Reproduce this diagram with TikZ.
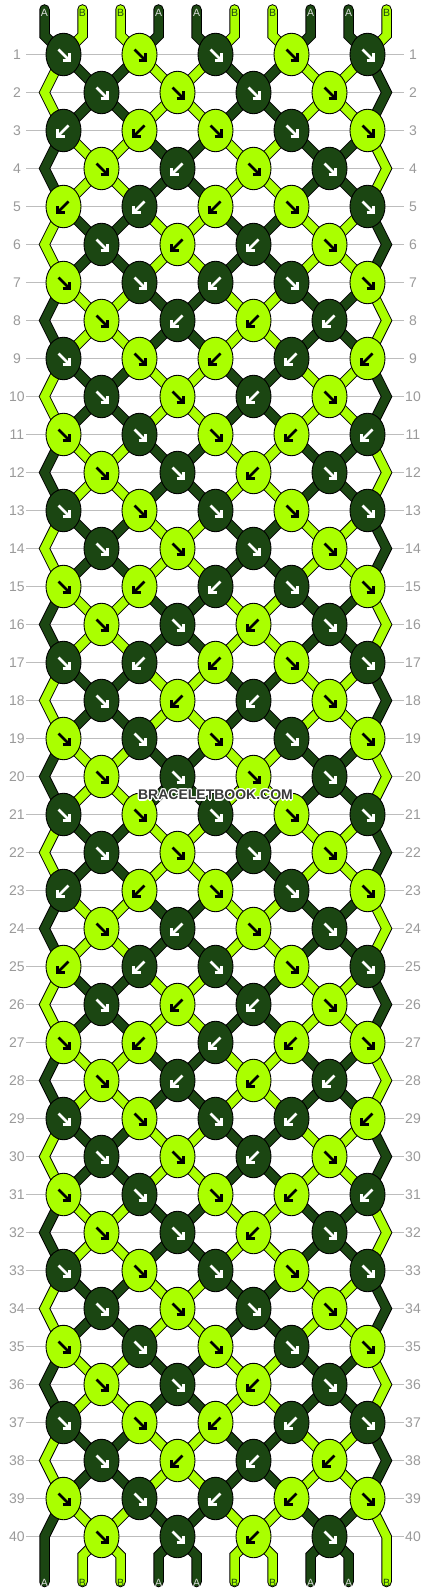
\documentclass[tikz,border=0pt]{standalone}
\usepackage{fontspec}
\setmainfont{Liberation Sans}
\usetikzlibrary{shapes.geometric}
\definecolor{dk}{HTML}{1B4612}
\definecolor{lm}{HTML}{AAFF00}
\definecolor{gridc}{HTML}{BDBDBD}
\definecolor{numc}{HTML}{9A9A9A}
\definecolor{wmc}{HTML}{3A3A3A}
\definecolor{labA}{HTML}{DDDDDD}
\pgfdeclarelayer{grid}
\pgfdeclarelayer{outl}
\pgfdeclarelayer{fillg}
\pgfsetlayers{grid,outl,fillg,main}
\tikzset{
  knotshape/.style={ellipse, draw=black, line width=0.9pt, minimum width=35pt, minimum height=42.5pt, inner sep=0pt},
  strout/.style={line width=10.5pt, draw=black, line cap=round},
  strfill/.style={line width=8.5pt, line cap=round},
  rowline/.style={draw=gridc, line width=1pt},
  rownum/.style={text=numc, font=\fontsize{14}{14}\selectfont, inner sep=0pt},
  arrowmark/.style={line width=2.6pt, line join=miter},
  endlabel/.style={font=\fontsize{10.5}{10.5}\selectfont, inner sep=0pt},
  wmark/.style={font=\bfseries\fontsize{14}{14}\selectfont, inner sep=0pt},
}
\def\strpass{1}
\newcommand\strseg[2]{%
  \ifnum\strpass=1\relax \draw[strout] #2;\else \draw[strfill,draw=#1] #2;\fi
}
\newcommand\knotrow[2]{%
  \foreach \a [count=\kcol] in {#2} {%
    \pgfmathtruncatemacro\isodd{mod(#1,2)}%
    \pgfmathsetmacro\kx{\isodd==1 ? 63.5+76*(\kcol-1) : 101.5+76*(\kcol-1)}%
    \pgfmathsetmacro\ky{54.5+38*(#1-1)}%
    \pgfmathtruncatemacro\pp{\isodd==1 ? 2*\kcol-1+\a : 2*\kcol}%
    \pgfmathtruncatemacro\isB{mod(floor(mod(\pp,4)/2)+mod(floor(#1/2),2),2)}%
    \ifnum\isB=1 \def\kfc{lm}\def\kac{black}\else\def\kfc{dk}\def\kac{white}\fi
    \node[knotshape, fill=\kfc] (k-#1-\kcol) at (\kx,\ky) {};
    \ifnum\a=0
      \draw[arrowmark, draw=\kac] ([shift={(-5,-5)}]k-#1-\kcol.center) -- ([shift={(6,6)}]k-#1-\kcol.center);
      \draw[arrowmark, draw=\kac] ([shift={(-1,6)}]k-#1-\kcol.center) -- ([shift={(6,6)}]k-#1-\kcol.center) -- ([shift={(6,-1)}]k-#1-\kcol.center);
    \else
      \draw[arrowmark, draw=\kac] ([shift={(5,-5)}]k-#1-\kcol.center) -- ([shift={(-6,6)}]k-#1-\kcol.center);
      \draw[arrowmark, draw=\kac] ([shift={(1,6)}]k-#1-\kcol.center) -- ([shift={(-6,6)}]k-#1-\kcol.center) -- ([shift={(-6,-1)}]k-#1-\kcol.center);
    \fi
  }%
}
\newcommand\allstrings{%
% top strings
\foreach \i in {1,...,10} {
  \pgfmathtruncatemacro\kk{ceil(\i/2)}
  \pgfmathtruncatemacro\sc{mod(floor(mod(\i,4)/2),2)}
  \ifnum\sc=1 \def\scol{lm}\else\def\scol{dk}\fi
  \strseg{\scol}{(tt-\i) -- (tb-\i) -- (k-1-\kk.center)}
}
% odd rows -> next
\foreach \r in {1,3,...,39} {
  \pgfmathtruncatemacro\rn{\r+1}
  \pgfmathtruncatemacro\rnn{\r+2}
  \pgfmathtruncatemacro\sfl{mod(floor((\r+1)/2),2)}
  \foreach \kc in {1,...,5} {
    \pgfmathtruncatemacro\pL{2*\kc-1}
    \pgfmathtruncatemacro\pR{2*\kc}
    \pgfmathtruncatemacro\cL{mod(floor(mod(\pL,4)/2)+\sfl,2)}
    \pgfmathtruncatemacro\cR{mod(floor(mod(\pR,4)/2)+\sfl,2)}
    \ifnum\cL=1 \def\colL{lm}\else\def\colL{dk}\fi
    \ifnum\cR=1 \def\colR{lm}\else\def\colR{dk}\fi
    \ifnum\kc=1
      \ifnum\r=39
        \strseg{\colL}{(k-\r-1.center) -- (L-40) -- (bt-1)}
      \else
        \strseg{\colL}{(k-\r-1.center) -- (L-\rn) -- (k-\rnn-1.center)}
      \fi
    \else
      \pgfmathtruncatemacro\cm{\kc-1}
      \strseg{\colL}{(k-\r-\kc.center) -- (k-\rn-\cm.center)}
    \fi
    \ifnum\kc=5
      \ifnum\r=39
        \strseg{\colR}{(k-\r-5.center) -- (R-40) -- (bt-10)}
      \else
        \strseg{\colR}{(k-\r-5.center) -- (R-\rn) -- (k-\rnn-5.center)}
      \fi
    \else
      \strseg{\colR}{(k-\r-\kc.center) -- (k-\rn-\kc.center)}
    \fi
  }
}
% even rows -> next
\foreach \r in {2,4,...,38} {
  \pgfmathtruncatemacro\rn{\r+1}
  \pgfmathtruncatemacro\sfl{mod(floor((\r+1)/2),2)}
  \foreach \kc in {1,...,4} {
    \pgfmathtruncatemacro\pL{2*\kc}
    \pgfmathtruncatemacro\pR{2*\kc+1}
    \pgfmathtruncatemacro\cL{mod(floor(mod(\pL,4)/2)+\sfl,2)}
    \pgfmathtruncatemacro\cR{mod(floor(mod(\pR,4)/2)+\sfl,2)}
    \ifnum\cL=1 \def\colL{lm}\else\def\colL{dk}\fi
    \ifnum\cR=1 \def\colR{lm}\else\def\colR{dk}\fi
    \pgfmathtruncatemacro\cp{\kc+1}
    \strseg{\colL}{(k-\r-\kc.center) -- (k-\rn-\kc.center)}
    \strseg{\colR}{(k-\r-\kc.center) -- (k-\rn-\cp.center)}
  }
}
% row 40 -> bottom
\foreach \kc in {1,...,4} {
  \pgfmathtruncatemacro\pL{2*\kc}
  \pgfmathtruncatemacro\pR{2*\kc+1}
  \pgfmathtruncatemacro\cL{mod(floor(mod(\pL,4)/2),2)}
  \pgfmathtruncatemacro\cR{mod(floor(mod(\pR,4)/2),2)}
  \ifnum\cL=1 \def\colL{lm}\else\def\colL{dk}\fi
  \ifnum\cR=1 \def\colR{lm}\else\def\colR{dk}\fi
  \strseg{\colL}{(k-40-\kc.center) -- (bb-\pL) -- (bt-\pL)}
  \strseg{\colR}{(k-40-\kc.center) -- (bb-\pR) -- (bt-\pR)}
}%
}
\begin{document}
\begin{tikzpicture}[x=1pt,y=-1pt]
\useasboundingbox (0,0) rectangle (430,1592);
\begin{pgfonlayer}{grid}
\fill[white] (0,0) rectangle (430,1592);
\foreach \r in {1,...,40} {
  \pgfmathsetmacro\ky{54.5+38*(\r-1)}
  \coordinate (gl-\r) at (26,\ky);
  \coordinate (gr-\r) at (404,\ky);
  \draw[rowline] (gl-\r) -- (gr-\r);
  \node[rownum] (nl-\r) at (17,\ky) {\r};
  \node[rownum] (nr-\r) at (413,\ky) {\r};
  \coordinate (L-\r) at (44.5,\ky);
  \coordinate (R-\r) at (386.5,\ky);
}
\end{pgfonlayer}
% string end coordinates
\foreach \i in {1,...,10} {
  \pgfmathsetmacro\sx{44.5+38*(\i-1)}
  \coordinate (tt-\i) at (\sx,9.5);
  \coordinate (tb-\i) at (\sx,35.5);
  \coordinate (bb-\i) at (\sx,1555.5);
  \coordinate (bt-\i) at (\sx,1582);
}
% knots (0 = forward, 1 = backward)
\knotrow{1}{0,0,0,0,0}
\knotrow{2}{0,0,0,0}
\knotrow{3}{1,1,0,0,0}
\knotrow{4}{0,1,0,0}
\knotrow{5}{1,1,1,0,0}
\knotrow{6}{0,1,1,0}
\knotrow{7}{0,0,1,0,0}
\knotrow{8}{0,1,1,1}
\knotrow{9}{0,0,1,1,1}
\knotrow{10}{0,0,1,0}
\knotrow{11}{0,0,0,1,1}
\knotrow{12}{0,0,1,0}
\knotrow{13}{0,0,0,0,0}
\knotrow{14}{0,0,0,0}
\knotrow{15}{0,1,1,0,0}
\knotrow{16}{0,0,1,0}
\knotrow{17}{0,1,1,0,0}
\knotrow{18}{0,1,1,0}
\knotrow{19}{0,0,0,0,0}
\knotrow{20}{0,0,0,0}
\knotrow{21}{0,0,0,0,0}
\knotrow{22}{0,0,0,0}
\knotrow{23}{1,1,0,0,0}
\knotrow{24}{0,1,0,0}
\knotrow{25}{1,1,0,0,0}
\knotrow{26}{0,1,1,0}
\knotrow{27}{0,1,1,1,0}
\knotrow{28}{0,1,1,1}
\knotrow{29}{0,0,0,1,1}
\knotrow{30}{0,0,1,0}
\knotrow{31}{0,0,0,1,1}
\knotrow{32}{0,0,1,0}
\knotrow{33}{0,0,0,0,0}
\knotrow{34}{0,0,0,0}
\knotrow{35}{0,0,0,0,0}
\knotrow{36}{0,0,1,0}
\knotrow{37}{0,0,1,1,0}
\knotrow{38}{0,1,1,1}
\knotrow{39}{0,0,1,1,0}
\knotrow{40}{0,0,1,0}
% strings: outlines, then fills
\begin{pgfonlayer}{outl}\def\strpass{1}\allstrings\end{pgfonlayer}
\begin{pgfonlayer}{fillg}\def\strpass{2}\allstrings\end{pgfonlayer}
% end labels
\foreach \i in {1,...,10} {
  \pgfmathtruncatemacro\sc{mod(floor(mod(\i,4)/2),2)}
  \ifnum\sc=1 \def\lab{B}\def\labc{dk}\else\def\lab{A}\def\labc{labA}\fi
  \node[endlabel, text=\labc] (lt-\i) at ([yshift=-3.5pt]tt-\i) {\lab};
  \node[endlabel, text=\labc] (lb-\i) at ([yshift=-1pt]bt-\i) {\lab};
}
% watermark
\foreach \dx/\dy [count=\h] in {1.2/0,-1.2/0,0/1.2,0/-1.2,0.9/0.9,-0.9/0.9,0.9/-0.9,-0.9/-0.9} {
  \node[wmark, text=white] (wmh-\h) at (215.5+\dx,795+\dy) {BRACELETBOOK.COM};
}
\node[wmark, text=wmc] (wm) at (215.5,795) {BRACELETBOOK.COM};
\end{tikzpicture}
\end{document}
